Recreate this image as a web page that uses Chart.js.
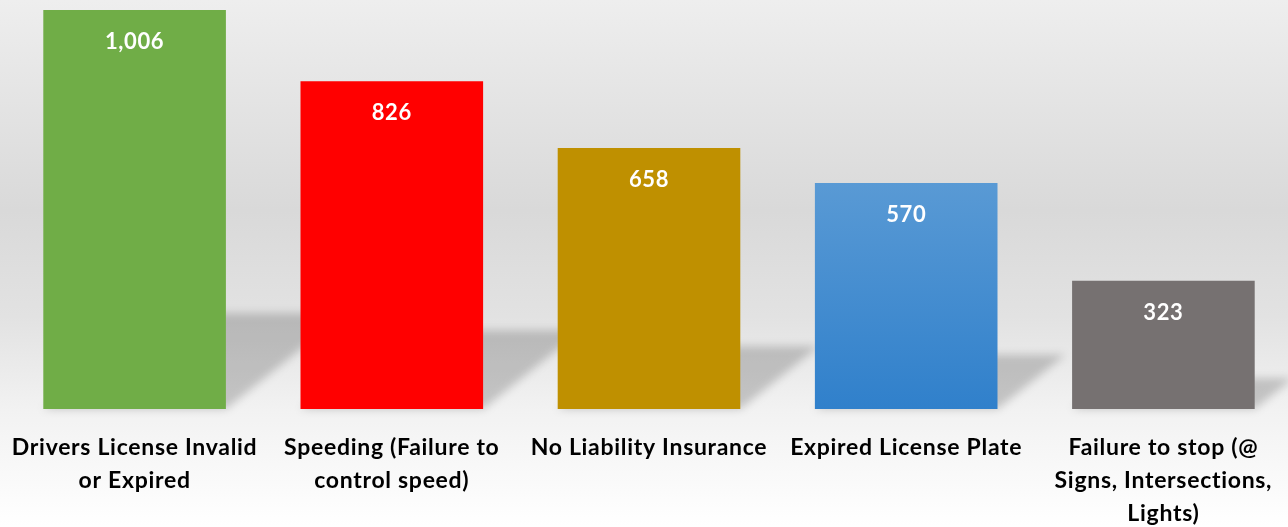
<!DOCTYPE html>
<html>
<head>
<meta charset="utf-8">
<script src="https://cdn.jsdelivr.net/npm/chart.js@4/dist/chart.umd.min.js"></script>
<style>
  html, body { margin: 0; padding: 0; overflow: hidden; }
  body {
    width: 1288px; height: 527px;
    background: linear-gradient(to bottom, #eeeeee 0%, #d9d9d9 40%, #e2e2e2 60%, #f2f2f2 78%, #ffffff 100%);
  }
  #wrap { width: 1294px; height: 527px; position: relative; }
</style>
</head>
<body>
<div id="wrap"><canvas id="mychart"></canvas></div>
<script>
const categories = [
  ['Drivers License Invalid', 'or Expired'],
  ['Speeding (Failure to', 'control speed)'],
  'No Liability Insurance',
  'Expired License Plate',
  ['Failure to stop (@', 'Signs, Intersections,', 'Lights)']
];
const citations = [1006, 826, 658, 570, 323];
const barColors = ['#70AD47', '#FF0000', '#BF9000', 'blue-gradient', '#767171'];

function barFill(c) {
  const col = barColors[c.dataIndex];
  if (col !== 'blue-gradient') return col;
  const area = c.chart.chartArea;
  if (!area) return '#4A8ED2';
  const g = c.chart.ctx.createLinearGradient(0, area.top, 0, area.bottom);
  g.addColorStop(0, '#6AA5DD');
  g.addColorStop(0.42, '#5B9BD5');
  g.addColorStop(1, '#3080CB');
  return g;
}

// wider letter spacing, closer to the original's Calibri look
const spacingPlugin = {
  id: 'spacing',
  beforeUpdate(chart) { chart.ctx.letterSpacing = '0.7px'; },
  beforeDraw(chart) { chart.ctx.letterSpacing = '0.7px'; }
};

// perspective shadow behind each bar
const shadowPlugin = {
  id: 'barShadow',
  beforeDatasetsDraw(chart) {
    const ctx = chart.ctx;
    const meta = chart.getDatasetMeta(0);
    ctx.save();
    ctx.filter = 'blur(4px)';
    ctx.fillStyle = 'rgba(0,0,0,0.19)';
    meta.data.forEach(function(bar) {
      const left = bar.x - bar.width / 2;
      const right = bar.x + bar.width / 2;
      const h = (bar.base - bar.y) * 0.24;
      const dx = h * 1.25;
      ctx.beginPath();
      ctx.moveTo(left, bar.base);
      ctx.lineTo(right, bar.base);
      ctx.lineTo(right + dx, bar.base - h);
      ctx.lineTo(left + dx, bar.base - h);
      ctx.closePath();
      ctx.fill();
    });
    ctx.restore();
  }
};

// value labels inside the top of bars
const valuePlugin = {
  id: 'valueLabels',
  afterDatasetsDraw(chart) {
    const ctx = chart.ctx;
    const meta = chart.getDatasetMeta(0);
    ctx.save();
    ctx.fillStyle = '#ffffff';
    ctx.font = 'bold 22px Lato';
    ctx.letterSpacing = '0.6px';
    ctx.textAlign = 'center';
    ctx.textBaseline = 'middle';
    meta.data.forEach(function(bar, i) {
      ctx.fillText(citations[i].toLocaleString('en-US'), bar.x, bar.y + 32);
    });
    ctx.restore();
  }
};

const ctx = document.getElementById('mychart').getContext('2d');
const myChart = new Chart(ctx, {
  type: 'bar',
  data: {
    labels: categories,
    datasets: [{
      label: 'Citations',
      data: citations,
      backgroundColor: barFill,
      borderWidth: 0,
      barPercentage: 0.71,
      categoryPercentage: 1
    }]
  },
  options: {
    responsive: true,
    maintainAspectRatio: false,
    animation: false,
    layout: { padding: { left: 6, right: 2, top: 0, bottom: 0 } },
    plugins: {
      legend: { display: false },
      tooltip: { enabled: false }
    },
    scales: {
      x: {
        grid: { display: false, drawTicks: false },
        border: { display: false },
        ticks: {
          color: '#000000',
          font: { family: 'Lato', weight: 'bold', size: 23, lineHeight: 1.435 },
          padding: 22,
          maxRotation: 0,
          autoSkip: false
        },
        afterFit: function(scale) {
          scale.height = 118;
          scale.paddingLeft = 0;
          scale.paddingRight = 0;
        }
      },
      y: {
        display: false,
        min: 0,
        max: 1031
      }
    }
  },
  plugins: [spacingPlugin, shadowPlugin, valuePlugin]
});
</script>
</body>
</html>
